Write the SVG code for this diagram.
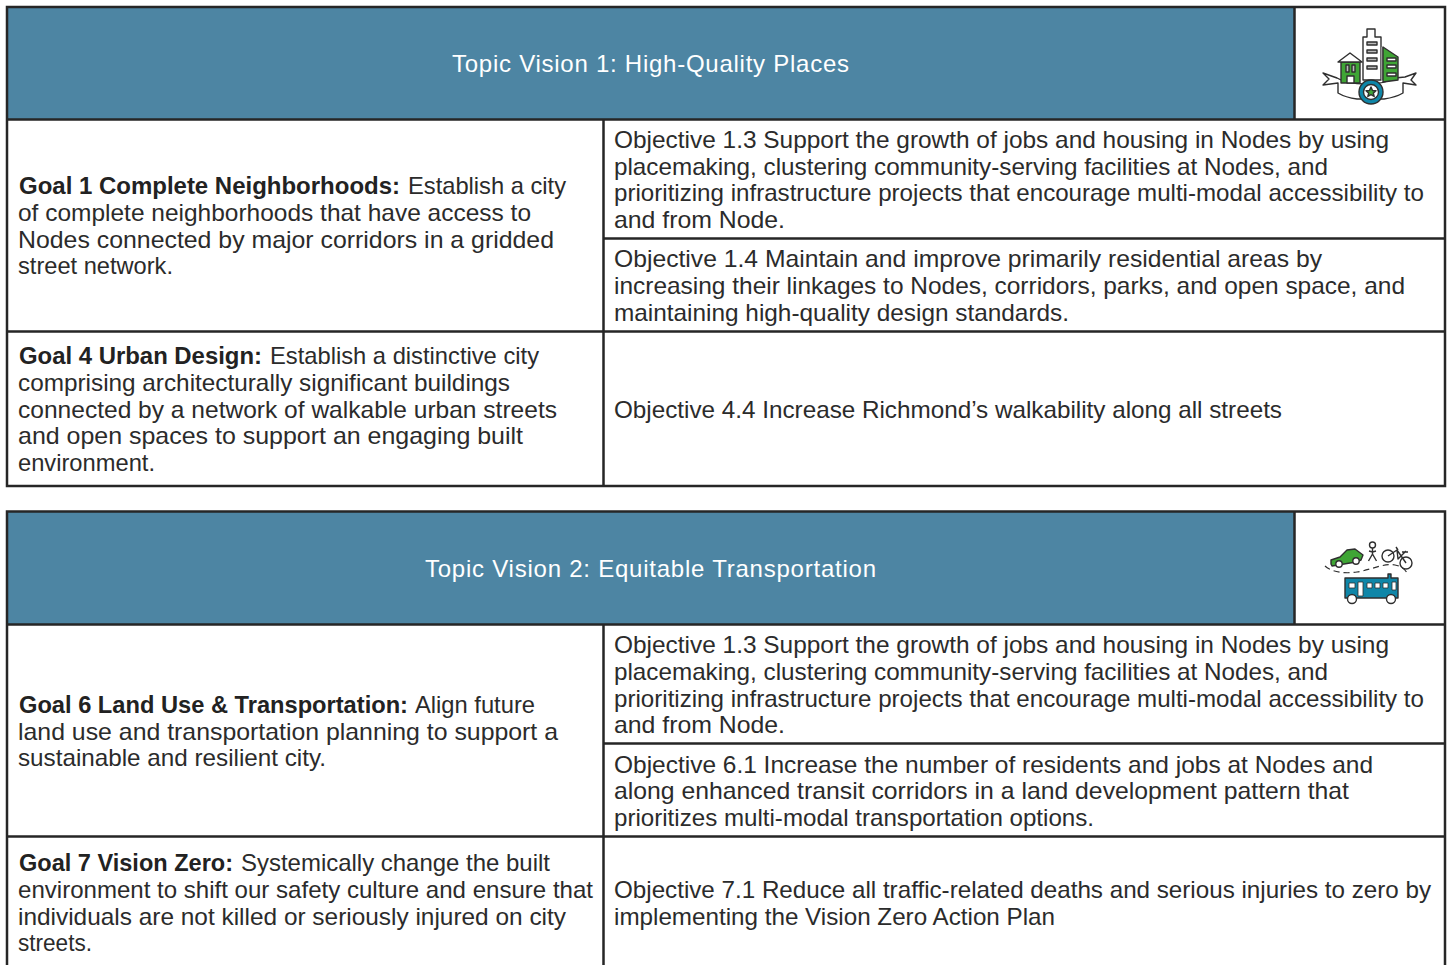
<svg xmlns="http://www.w3.org/2000/svg" width="1449" height="965" viewBox="0 0 1449 965">
<style>
text{font-family:"Liberation Sans",Arial,sans-serif;font-size:24px;fill:#2b2b2b}
.b{font-weight:700;fill:#222}
.h{fill:#fff;font-size:24px}
.hd{fill:#4d85a3}
.ln{stroke:#262626;stroke-width:2.5;fill:none}
.ic{stroke:#2f2f2f;stroke-width:1.4;stroke-linejoin:round}
.w{fill:#fff}.g{fill:#3fa535}.t{fill:#0f86a8}.n{fill:none}
</style>
<rect width="1449" height="965" fill="#fff"/>
<g id="table-1">
<rect class="hd" x="7" y="7" width="1287" height="112"/>
<g class="ln">
<rect x="7" y="7" width="1438" height="479"/>
<path d="M7 119.500H1445M1294.500 7V119M603.500 119V486M7 331.500H1445M603 238.500H1445"/>
</g>
<text class="h" x="452" y="72" textLength="397" lengthAdjust="spacing">Topic Vision 1: High-Quality Places</text>
<g id="goal-1">
<text class="b" x="19" y="194" textLength="381" lengthAdjust="spacingAndGlyphs">Goal 1 Complete Neighborhoods:</text>
<text x="408" y="194" textLength="158" lengthAdjust="spacingAndGlyphs">Establish a city</text>
<text x="18" y="221" textLength="513" lengthAdjust="spacingAndGlyphs">of complete neighborhoods that have access to</text>
<text x="18" y="248" textLength="536" lengthAdjust="spacingAndGlyphs">Nodes connected by major corridors in a gridded</text>
<text x="18" y="274" textLength="155" lengthAdjust="spacingAndGlyphs">street network.</text>
</g>
<g id="objective-1-3-a">
<text x="614" y="148" textLength="775" lengthAdjust="spacingAndGlyphs">Objective 1.3 Support the growth of jobs and housing in Nodes by using</text>
<text x="614" y="175" textLength="714" lengthAdjust="spacingAndGlyphs">placemaking, clustering community-serving facilities at Nodes, and</text>
<text x="614" y="201" textLength="810" lengthAdjust="spacingAndGlyphs">prioritizing infrastructure projects that encourage multi-modal accessibility to</text>
<text x="614" y="228" textLength="171" lengthAdjust="spacingAndGlyphs">and from Node.</text>
</g>
<g id="objective-1-4">
<text x="614" y="267" textLength="708" lengthAdjust="spacingAndGlyphs">Objective 1.4 Maintain and improve primarily residential areas by</text>
<text x="614" y="294" textLength="791" lengthAdjust="spacingAndGlyphs">increasing their linkages to Nodes, corridors, parks, and open space, and</text>
<text x="614" y="321" textLength="455" lengthAdjust="spacingAndGlyphs">maintaining high-quality design standards.</text>
</g>
<g id="goal-4">
<text class="b" x="19" y="364" textLength="243" lengthAdjust="spacingAndGlyphs">Goal 4 Urban Design:</text>
<text x="270" y="364" textLength="269" lengthAdjust="spacingAndGlyphs">Establish a distinctive city</text>
<text x="18" y="391" textLength="492" lengthAdjust="spacingAndGlyphs">comprising architecturally significant buildings</text>
<text x="18" y="418" textLength="539" lengthAdjust="spacingAndGlyphs">connected by a network of walkable urban streets</text>
<text x="18" y="444" textLength="505" lengthAdjust="spacingAndGlyphs">and open spaces to support an engaging built</text>
<text x="18" y="471" textLength="137" lengthAdjust="spacingAndGlyphs">environment.</text>
</g>
<g id="objective-4-4">
<text x="614" y="418" textLength="668" lengthAdjust="spacingAndGlyphs">Objective 4.4 Increase Richmond’s walkability along all streets</text>
</g>
<g id="icon-places" class="ic">
<path class="w" d="M1323 73l14 5c13 8 45 8 58 0l10-1 11-4-5 7 5 5-13-2v10c-5 3-12 5-19 6h-27c-8-1-14-3-19-6v-10l-15 2 6-6z"/>
<path class="g" d="M1341 62h19v21h-19z"/>
<path class="w" d="M1347 83v-7h7v7z"/>
<path class="w" d="M1338 62l12-9 12 9z"/>
<path fill="#bbb" d="M1346 65h3v7h-3zM1352 65h3v7h-3z"/>
<path class="w" d="M1363 80V37h4v-8h8v8h6v43z"/>
<path fill="#bbb" d="M1367 42h10v3h-10zM1367 50h10v3h-10zM1367 58h10v3h-10zM1367 66h10v3h-10z"/>
<path fill="#999" stroke="none" d="M1381 47h2v33h-2z"/>
<path class="g" d="M1383 47l15 10v23l-15 2z"/>
<path class="w" d="M1387 58h9v3h-9zM1387 65h9v3h-9zM1387 73h9v3h-9z"/>
<circle class="t" cx="1371" cy="92" r="12"/>
<circle class="w" cx="1371" cy="92" r="7.500"/>
<path class="g" d="M1371 87l1.500 3.500 3.500.3-2.700 2.300.9 3.400-3.200-1.900-3.200 1.900.9-3.400-2.700-2.300 3.500-.3z"/>
</g>
</g>
<g id="table-2">
<rect class="hd" x="7" y="511" width="1287" height="113"/>
<g class="ln">
<path d="M7 966V511.500H1445V966M7 624.500H1445M1294.500 511V624M603.500 624V966M7 836.500H1445M603 743.500H1445"/>
</g>
<text class="h" x="425" y="577" textLength="451" lengthAdjust="spacing">Topic Vision 2: Equitable Transportation</text>
<g id="goal-6">
<text class="b" x="19" y="713" textLength="389" lengthAdjust="spacingAndGlyphs">Goal 6 Land Use &amp; Transportation:</text>
<text x="415" y="713" textLength="120" lengthAdjust="spacingAndGlyphs">Align future</text>
<text x="18" y="740" textLength="540" lengthAdjust="spacingAndGlyphs">land use and transportation planning to support a</text>
<text x="18" y="766" textLength="308" lengthAdjust="spacingAndGlyphs">sustainable and resilient city.</text>
</g>
<g id="objective-1-3-b">
<text x="614" y="653" textLength="775" lengthAdjust="spacingAndGlyphs">Objective 1.3 Support the growth of jobs and housing in Nodes by using</text>
<text x="614" y="680" textLength="714" lengthAdjust="spacingAndGlyphs">placemaking, clustering community-serving facilities at Nodes, and</text>
<text x="614" y="707" textLength="810" lengthAdjust="spacingAndGlyphs">prioritizing infrastructure projects that encourage multi-modal accessibility to</text>
<text x="614" y="733" textLength="171" lengthAdjust="spacingAndGlyphs">and from Node.</text>
</g>
<g id="objective-6-1">
<text x="614" y="773" textLength="759" lengthAdjust="spacingAndGlyphs">Objective 6.1 Increase the number of residents and jobs at Nodes and</text>
<text x="614" y="799" textLength="735" lengthAdjust="spacingAndGlyphs">along enhanced transit corridors in a land development pattern that</text>
<text x="614" y="826" textLength="480" lengthAdjust="spacingAndGlyphs">prioritizes multi-modal transportation options.</text>
</g>
<g id="goal-7">
<text class="b" x="19" y="871" textLength="214" lengthAdjust="spacingAndGlyphs">Goal 7 Vision Zero:</text>
<text x="241" y="871" textLength="309" lengthAdjust="spacingAndGlyphs">Systemically change the built</text>
<text x="18" y="898" textLength="575" lengthAdjust="spacingAndGlyphs">environment to shift our safety culture and ensure that</text>
<text x="18" y="925" textLength="548" lengthAdjust="spacingAndGlyphs">individuals are not killed or seriously injured on city</text>
<text x="18" y="951" textLength="74" lengthAdjust="spacingAndGlyphs">streets.</text>
</g>
<g id="objective-7-1">
<text x="614" y="898" textLength="817" lengthAdjust="spacingAndGlyphs">Objective 7.1 Reduce all traffic-related deaths and serious injuries to zero by</text>
<text x="614" y="925" textLength="441" lengthAdjust="spacingAndGlyphs">implementing the Vision Zero Action Plan</text>
</g>
<g id="icon-transport" class="ic">
<path class="g" d="M1331 560l9-3 7-7 8-1 8 6-2 5-5 2-24 4-1-2z"/>
<circle class="w" cx="1339" cy="564" r="3.200"/>
<circle class="w" cx="1356" cy="561" r="3.200"/>
<circle class="n" cx="1372.500" cy="545" r="3"/>
<path class="n" d="M1372.500 548v6l-4 7M1372.500 554l4 7M1369 551l3.500 1 3.500-1"/>
<circle class="n" cx="1388" cy="556" r="6"/>
<circle class="n" cx="1406" cy="563" r="6"/>
<path class="n" d="M1388 556l9-6 9 13M1397 550l1 9 8-8M1396 547l2 3M1402 552h6"/>
<path class="n" stroke-dasharray="6 4" stroke-width="1.200" d="M1325 566c6 6 20 8 32 6 14-2 26-9 38-7 6 1 10 4 12 8"/>
<path class="t" d="M1345 578h43v-4h3v4h7v20h-53z"/>
<circle class="w" cx="1352" cy="599" r="4.500"/>
<circle class="w" cx="1391" cy="599" r="4.500"/>
<path class="w" stroke-width=".8" d="M1349 583h6v5h-6zM1358 582h5v14h-5zM1367 583h5v5h-5zM1375 583h5v5h-5zM1383 583h5v5h-5zM1392 582h4v8h-4z"/>
</g>
</g>
</svg>
